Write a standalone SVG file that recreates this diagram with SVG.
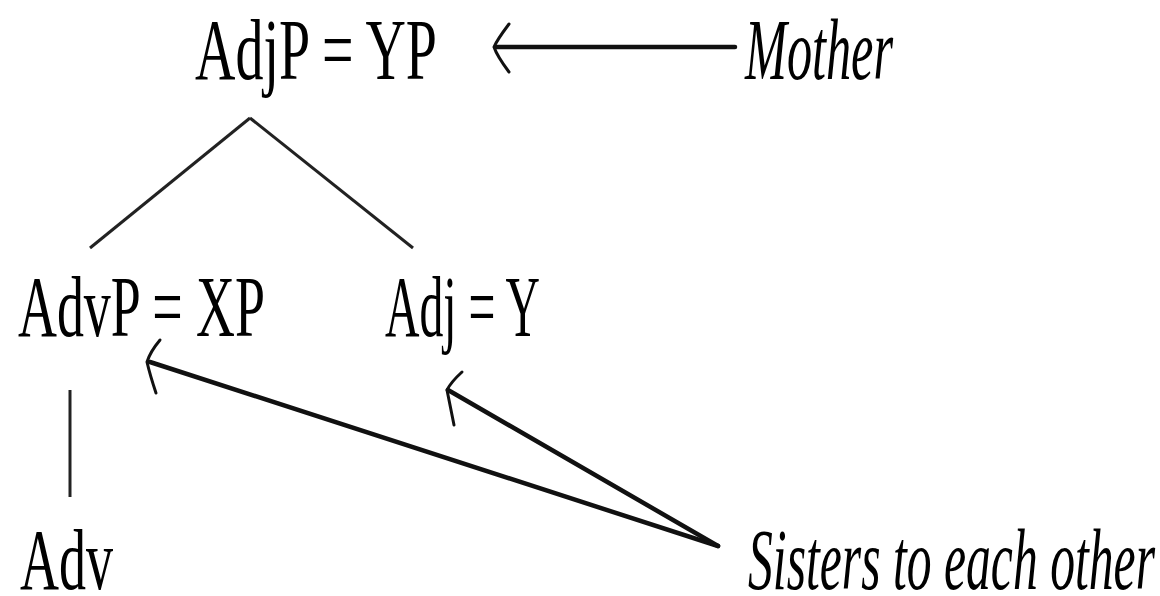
<svg xmlns="http://www.w3.org/2000/svg" width="1160" height="596" viewBox="0 0 1160 596">
<style>
.t{font-family:"Liberation Serif","Times New Roman",serif;font-size:86px;fill:#000}
.i{font-style:italic}
.ln{stroke:#222;stroke-width:3;fill:none}
.ar{stroke:#111;stroke-width:4.5;fill:none;stroke-linecap:round;stroke-linejoin:round}
.hd{stroke:#111;stroke-width:3;fill:none;stroke-linecap:round;stroke-linejoin:round}
</style>
<rect width="1160" height="596" fill="#fff"/>
<g id="connectors">
<line class="ln" x1="250" y1="118" x2="90" y2="248"/>
<line class="ln" x1="250" y1="118" x2="413" y2="248"/>
<line class="ln" x1="70" y1="390" x2="70" y2="497"/>
<line class="ar" x1="735" y1="47" x2="496" y2="47" stroke-width="5"/>
<path class="hd" d="M509,24 Q497,40 494,47 Q497,56 509,72"/>
<line class="ar" x1="718" y1="546" x2="150" y2="362"/>
<path class="hd" d="M160,340 Q150,352 147,362 Q150,375 156,393"/>
<line class="ar" x1="718" y1="546" x2="448" y2="390"/>
<path class="hd" d="M462,372 Q451,382 447,390 Q450,405 454,425"/>
</g>
<g id="mother-node"><text class="t" x="195" y="79" textLength="242" lengthAdjust="spacingAndGlyphs">AdjP = YP</text></g>
<g id="mother-label"><text class="t i" x="745" y="79" textLength="148" lengthAdjust="spacingAndGlyphs">Mother</text></g>
<g id="advp-node"><text class="t" x="18" y="336" textLength="247" lengthAdjust="spacingAndGlyphs">AdvP = XP</text></g>
<g id="adj-node"><text class="t" x="385" y="336" textLength="155" lengthAdjust="spacingAndGlyphs">Adj = Y</text></g>
<g id="adv-node"><text class="t" x="20" y="589" textLength="93" lengthAdjust="spacingAndGlyphs">Adv</text></g>
<g id="sisters-label"><text class="t i" x="748" y="589" textLength="407" lengthAdjust="spacingAndGlyphs">Sisters to each other</text></g>
</svg>
